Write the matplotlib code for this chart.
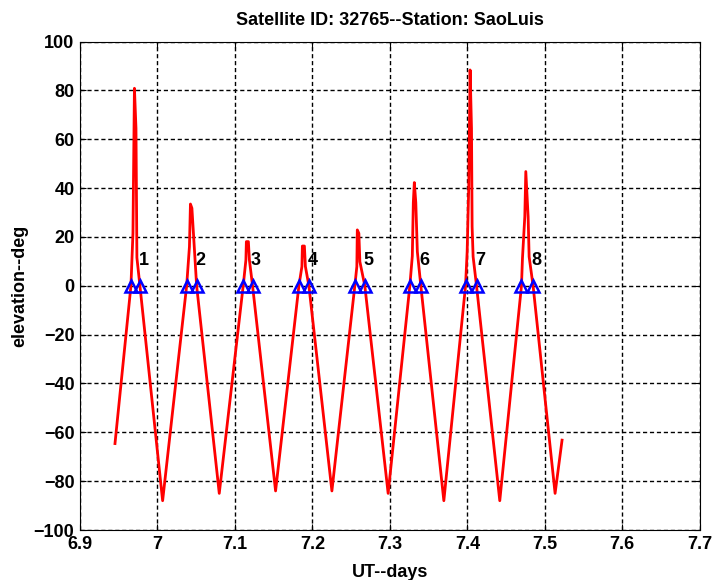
import matplotlib
matplotlib.use("Agg")
import matplotlib.pyplot as plt

plt.rcParams['font.family'] = ['Liberation Sans', 'DejaVu Sans']
plt.rcParams['font.weight'] = 'bold'

# 起点和终点
start_t, start_el = 6.9452, -64.6
end_t, end_el = 7.5223, -63.2

# 每次过境：升起/落下时刻（仰角 0）
rise_t = [6.9658, 7.0377, 7.1107, 7.1826, 7.2548, 7.3258, 7.3977, 7.4699]
set_t = [6.9774, 7.0506, 7.1228, 7.1955, 7.2677, 7.3400, 7.4119, 7.4849]

# 过境期间的仰角尖峰 (时刻, 仰角)
spike_t = [
    [6.9684, 6.9703, 6.9723, 6.9735],
    [7.0413, 7.0426, 7.0445],
    [7.1142, 7.1148, 7.1174, 7.1187],
    [7.1865, 7.1871, 7.1897, 7.1910],
    [7.2574, 7.2580, 7.2600, 7.2613],
    [7.3290, 7.3303, 7.3316, 7.3335, 7.3355],
    [7.3998, 7.4019, 7.4036, 7.4054, 7.4062, 7.4075],
    [7.4712, 7.4742, 7.4755, 7.4785, 7.4798],
]
spike_el = [
    [21.6, 80.9, 64.5, 11.5],
    [16.0, 33.5, 31.8],
    [10.6, 18.1, 18.1, 10.6],
    [7.9, 16.3, 16.3, 7.9],
    [7.9, 22.9, 21.5, 9.9],
    [12.2, 34.1, 42.3, 34.1, 14.0],
    [14.0, 41.3, 88.4, 64.5, 24.2, 11.9],
    [11.3, 28.3, 46.8, 28.3, 11.9],
]

# 每次过境之后的最低点
trough_t = [7.0067, 7.0798, 7.1525, 7.2252, 7.2978, 7.3697, 7.4419, 7.5133]
trough_el = [-88, -85, -84, -84, -85, -88, -88, -85]

pass_labels = ['1', '2', '3', '4', '5', '6', '7', '8']

# 拼接整条曲线
t = [start_t]
el = [start_el]
for i in range(len(rise_t)):
    t += [rise_t[i]] + spike_t[i] + [set_t[i], trough_t[i]]
    el += [0] + spike_el[i] + [0, trough_el[i]]
t.append(end_t)
el.append(end_el)

fig = plt.figure(figsize=(7.14, 5.8), dpi=100)
ax = fig.add_axes([0.112, 0.0862, 0.868, 0.842])

ax.plot(t, el, color='red', linewidth=2.0)
ax.plot(rise_t + set_t, [0] * (len(rise_t) + len(set_t)), '^', color='blue',
        markerfacecolor='none', markersize=8.5, markeredgewidth=1.8)
for i, lab in enumerate(pass_labels):
    ax.text(set_t[i] - 0.002, 10.5, lab, fontsize=13, fontweight='bold',
            ha='left', va='center')

ax.set_xlim(6.9, 7.7)
ax.set_ylim(-100, 100)
ax.set_xticks([6.9, 7.0, 7.1, 7.2, 7.3, 7.4, 7.5, 7.6, 7.7])
ax.set_xticklabels(['6.9', '7', '7.1', '7.2', '7.3', '7.4', '7.5', '7.6', '7.7'])
ax.set_yticks(range(-100, 101, 20))
ax.grid(True, color='black', linestyle=(0, (3, 2)), linewidth=1.0)
ax.tick_params(direction='in', length=4.5, width=0.8, top=True, right=True,
               labelsize=13, pad=4)
for s in ax.spines.values():
    s.set_linewidth(0.8)

ax.set_title('Satellite ID: 32765--Station: SaoLuis', fontsize=13,
             fontweight='bold', pad=12)
ax.set_xlabel('UT--days', fontsize=13, fontweight='bold', labelpad=8)
ax.set_ylabel('elevation--deg', fontsize=13, fontweight='bold', labelpad=4)

fig.savefig('out.png', dpi=100)
